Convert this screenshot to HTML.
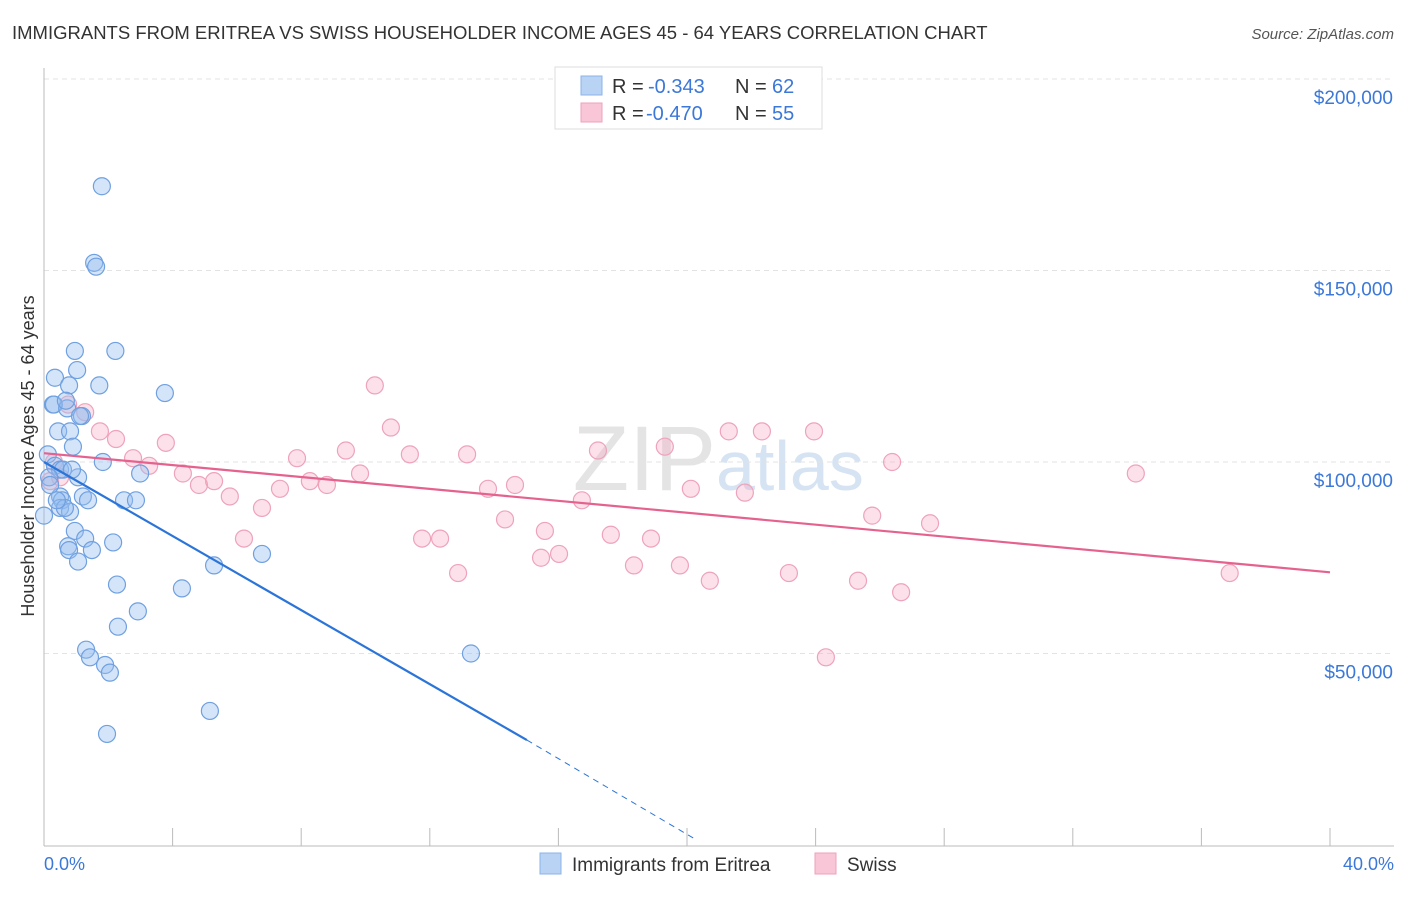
<!DOCTYPE html>
<html><head><meta charset="utf-8"><style>
body{margin:0;background:#fff;font-family:"Liberation Sans",sans-serif}
svg text{font-family:"Liberation Sans",sans-serif}
</style></head><body>
<svg id="chart" width="1406" height="892" xmlns="http://www.w3.org/2000/svg">
<text x="12" y="39" font-size="18.5" fill="#333">IMMIGRANTS FROM ERITREA VS SWISS HOUSEHOLDER INCOME AGES 45 - 64 YEARS CORRELATION CHART</text>
<text x="1394" y="39" font-size="15" fill="#555" text-anchor="end" font-style="italic">Source: ZipAtlas.com</text>
<text x="716" y="490" font-size="92" fill="#e4e4e4" text-anchor="end" font-family="Liberation Serif">ZIP</text>
<text x="716" y="490" font-size="70" fill="#d5e3f3">atlas</text>
<g id="grid"></g><g id="axes"></g><g id="pink"></g><g id="blue"></g><g id="lines"></g>
<text transform="translate(34,456) rotate(-90)" font-size="18" fill="#333" text-anchor="middle">Householder Income Ages 45 - 64 years</text>
<text x="44" y="870" font-size="18" fill="#3b78d8">0.0%</text>
<text x="1394" y="870" font-size="18" fill="#3b78d8" text-anchor="end">40.0%</text>
<g>
<rect x="555" y="67" width="267" height="62" fill="#fff" stroke="#ddd"/>
<rect x="581" y="76" width="21" height="19" fill="#b9d3f5" stroke="#8cb3e8"/>
<rect x="581" y="103" width="21" height="19" fill="#f8c6d6" stroke="#eea3bb"/>
<text x="612" y="93" font-size="20" fill="#333">R =</text>
<text x="648" y="93" font-size="20" fill="#3b78d8">-0.343</text>
<text x="735" y="93" font-size="20" fill="#333">N =</text>
<text x="772" y="93" font-size="20" fill="#3b78d8">62</text>
<text x="612" y="120" font-size="20" fill="#333">R =</text>
<text x="646" y="120" font-size="20" fill="#3b78d8">-0.470</text>
<text x="735" y="120" font-size="20" fill="#333">N =</text>
<text x="772" y="120" font-size="20" fill="#3b78d8">55</text>
</g>
<g>
<rect x="540" y="853" width="21" height="21" fill="#b9d3f5" stroke="#8cb3e8"/>
<text x="572" y="871" font-size="19" fill="#333">Immigrants from Eritrea</text>
<rect x="815" y="853" width="21" height="21" fill="#f8c6d6" stroke="#eea3bb"/>
<text x="847" y="871" font-size="19" fill="#333">Swiss</text>
</g>
</svg>
<script>
const yTicks=[50000,100000,150000,200000];
const yTickLabels=["$50,000","$100,000","$150,000","$200,000"];
const xTicks=[0,4,8,12,16,20,24,28,32,36,40];
const blueX=[1.8,1.56,1.62,2.22,0.96,1.03,0.34,0.78,1.72,3.76,0.28,0.31,0.72,0.68,1.18,1.12,0.44,0.81,0.9,1.83,0.12,0.34,0.5,0.59,0.16,1.06,0,0.5,0.56,1.21,0.5,0.81,0.65,2.49,2.86,2.99,0.96,1.28,2.15,0.75,0.78,1.49,1.06,6.78,5.29,2.27,4.29,2.92,2.3,1.31,1.43,1.9,2.05,13.28,5.16,1.96,0.19,0.4,1.37,0.87];
const blueY=[172,152,151,129,129,124,122,120,120,118,115,115,114,116,112,112,108,108,104,100,102,99,98,98,96,96,86,91,90,91,88,87,88,90,90,97,82,80,79,78,77,77,74,76,73,68,67,61,57,51,49,47,45,50,35,29,94,90,90,98];
const pinkX=[0.31,0.19,0.5,0.75,1.28,1.74,2.24,3.79,2.77,3.27,4.32,4.82,5.29,5.78,6.22,6.78,7.34,7.87,8.27,8.8,9.39,9.83,10.29,10.79,11.38,11.76,12.32,12.88,13.16,13.81,14.34,14.65,15.58,15.46,16.02,16.73,17.23,17.63,18.35,18.88,19.31,19.78,20.12,20.71,21.3,21.8,22.33,23.17,23.95,24.32,25.32,25.76,26.38,26.66,27.56,33.96,36.88];
const pinkY=[100,95,96,115,113,108,106,105,101,99,97,94,95,91,80,88,93,101,95,94,103,97,120,109,102,80,80,71,102,93,85,94,82,75,76,90,103,81,73,80,104,73,93,69,108,92,108,71,108,49,69,86,100,66,84,97,71];
const X=v=>44+v/40*1286, Y=v=>845-v/50000*191.5;
const ns="http://www.w3.org/2000/svg";
function mk(t,a,p){const e=document.createElementNS(ns,t);for(const k in a)e.setAttribute(k,a[k]);document.getElementById(p).appendChild(e);return e;}
yTicks.forEach((t,i)=>{
 const l=mk('line',{x1:44,x2:1394,y1:Y(t),y2:Y(t),stroke:'#e3e3e3','stroke-dasharray':'5,4'},'grid');
 
 
 const tx=mk('text',{x:1393,y:Y(t)+25,'font-size':19,fill:'#3b78d8','text-anchor':'end'},'axes');
 tx.textContent=yTickLabels[i];
 
 
});
const topGrid=mk('line',{x1:44,x2:1394,y1:79,y2:79,stroke:'#e3e3e3','stroke-dasharray':'5,4'},'grid');


const ya=mk('line',{x1:44,x2:44,y1:68,y2:846,stroke:'#bbb'},'axes');


const xa=mk('line',{x1:44,x2:1394,y1:846,y2:846,stroke:'#bbb'},'axes');


xTicks.forEach(t=>{
 const l=mk('line',{x1:X(t),x2:X(t),y1:828,y2:846,stroke:'#bbb'},'axes');
 
 
});
pinkX.forEach((x,i)=>{
 const c=mk('circle',{cx:X(x),cy:Y(pinkY[i]*1000),r:8.5,fill:'rgba(245,170,195,0.35)',stroke:'#eea3bb','stroke-width':1.2},'pink');
 
 
});
blueX.forEach((x,i)=>{
 const c=mk('circle',{cx:X(x),cy:Y(blueY[i]*1000),r:8.5,fill:'rgba(150,190,240,0.4)',stroke:'#6fa0e0','stroke-width':1.2},'blue');
 
 
});
const pl=mk('line',{x1:X(0),y1:Y(102300),x2:X(40),y2:Y(71200),stroke:'#e5628f','stroke-width':2.2},'lines');


const bl=mk('line',{x1:X(0),y1:Y(100000),x2:X(15.02),y2:Y(27400),stroke:'#2b74d8','stroke-width':2.2},'lines');


const bd=mk('line',{x1:X(15.02),y1:Y(27400),x2:X(20.3),y2:Y(1300),stroke:'#2b74d8','stroke-width':1,'stroke-dasharray':'6,5'},'lines');


</script>
</body></html>
